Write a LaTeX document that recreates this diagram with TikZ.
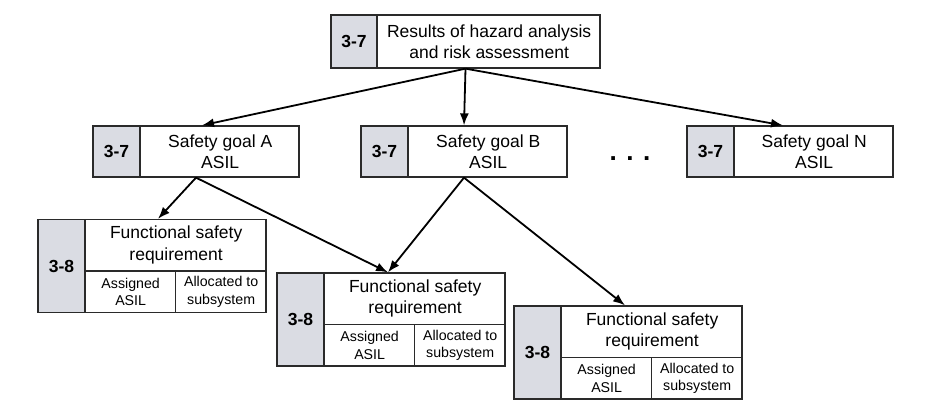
\documentclass[tikz,border=0pt]{standalone}
\usepackage{fontspec}
\setmainfont{Liberation Sans}
\usepackage{tikz}
\usepackage{xcolor}
\usetikzlibrary{arrows.meta, positioning, calc}
\definecolor{TagGray}{HTML}{DADCE3}
\definecolor{BoxLine}{HTML}{2A2A2A}

\begin{document}
\begin{tikzpicture}[x=1pt, y=-1pt,
  box/.style={draw=BoxLine, line width=1.3pt, fill=white, inner sep=0pt},
  tagbox/.style={box, fill=TagGray, minimum width=47pt, font=\fontsize{17.5}{21}\selectfont\bfseries},
  maintext/.style={align=center, inner sep=0pt, font=\fontsize{17.5}{21.5}\selectfont},
  celltext/.style={align=center, inner sep=0pt, font=\fontsize{14.2}{17.5}\selectfont},
  flow/.style={-{Latex[length=12pt,width=9pt]}, line width=1.8pt}]
\useasboundingbox (0,0) rectangle (947,418);
% --- hazard analysis result ---
\node[box, minimum width=269pt, minimum height=53pt] (hara) at (465.5,41.5) {};
\node[tagbox, minimum width=46pt, minimum height=53pt, anchor=west] (hara-tag) at (hara.west) {3-7};
\node[maintext] (hara-text) at ($(hara-tag.east)!0.5!(hara.east)$) {Results of hazard analysis\\and risk assessment};
% --- safety goals ---
\foreach \n/\x/\g in {goalA/196/A, goalB/464/B, goalN/790/N}{
  \node[box, minimum width=206pt, minimum height=51pt] (\n) at (\x,151.5) {};
  \node[tagbox, minimum height=51pt, anchor=west] (\n-tag) at (\n.west) {3-7};
  \node[maintext] (\n-text) at ($(\n-tag.east)!0.5!(\n.east)$) {Safety goal \g\\ASIL};
}
\node[anchor=base, font=\fontsize{26}{26}\selectfont\bfseries] (dots) at (630,160) {. . .};
% --- functional safety requirements ---
\foreach \n/\x/\y in {fsr1/152/266, fsr2/391/319.5, fsr3/628/352.5}{
  \node[box, minimum width=228pt, minimum height=93pt] (\n) at (\x,\y) {};
  \node[tagbox, minimum height=93pt, anchor=west] (\n-tag) at (\n.west) {3-8};
  \coordinate (\n-mid) at ([yshift=-52pt]\n-tag.north east);
  \coordinate (\n-split) at ([xshift=90pt]\n-mid);
  \draw[BoxLine, line width=1.3pt] (\n-mid) -- (\n-mid -| \n.east);
  \draw[BoxLine, line width=1.3pt] (\n-split) -- (\n-split |- \n.south);
  \node[maintext] (\n-text) at ($(\n-tag.north east)!0.5!(\n-mid -| \n.east)$) {Functional safety\\requirement};
  \node[celltext] (\n-asil) at ($(\n-mid)!0.5!(\n-split |- \n.south)$) {Assigned\\ASIL};
  \node[celltext] (\n-alloc) at ($(\n-split)!0.5!(\n.south east)$) {Allocated to\\subsystem};
}
% --- connectors ---
\draw[flow] (hara.south) -- ([xshift=6pt]goalA.north);
\draw[flow] (hara.south) -- (goalB.north);
\draw[flow] (hara.south) -- ([xshift=-7pt]goalN.north);
\draw[flow] (goalA.south) -- ([xshift=6pt]fsr1.north);
\draw[flow] (goalA.south) -- ([xshift=-3pt]fsr2.north);
\draw[flow] (goalB.south) -- ([xshift=-3pt]fsr2.north);
\draw[flow] (goalB.south) -- ([xshift=-3pt]fsr3.north);
\end{tikzpicture}
\end{document}
